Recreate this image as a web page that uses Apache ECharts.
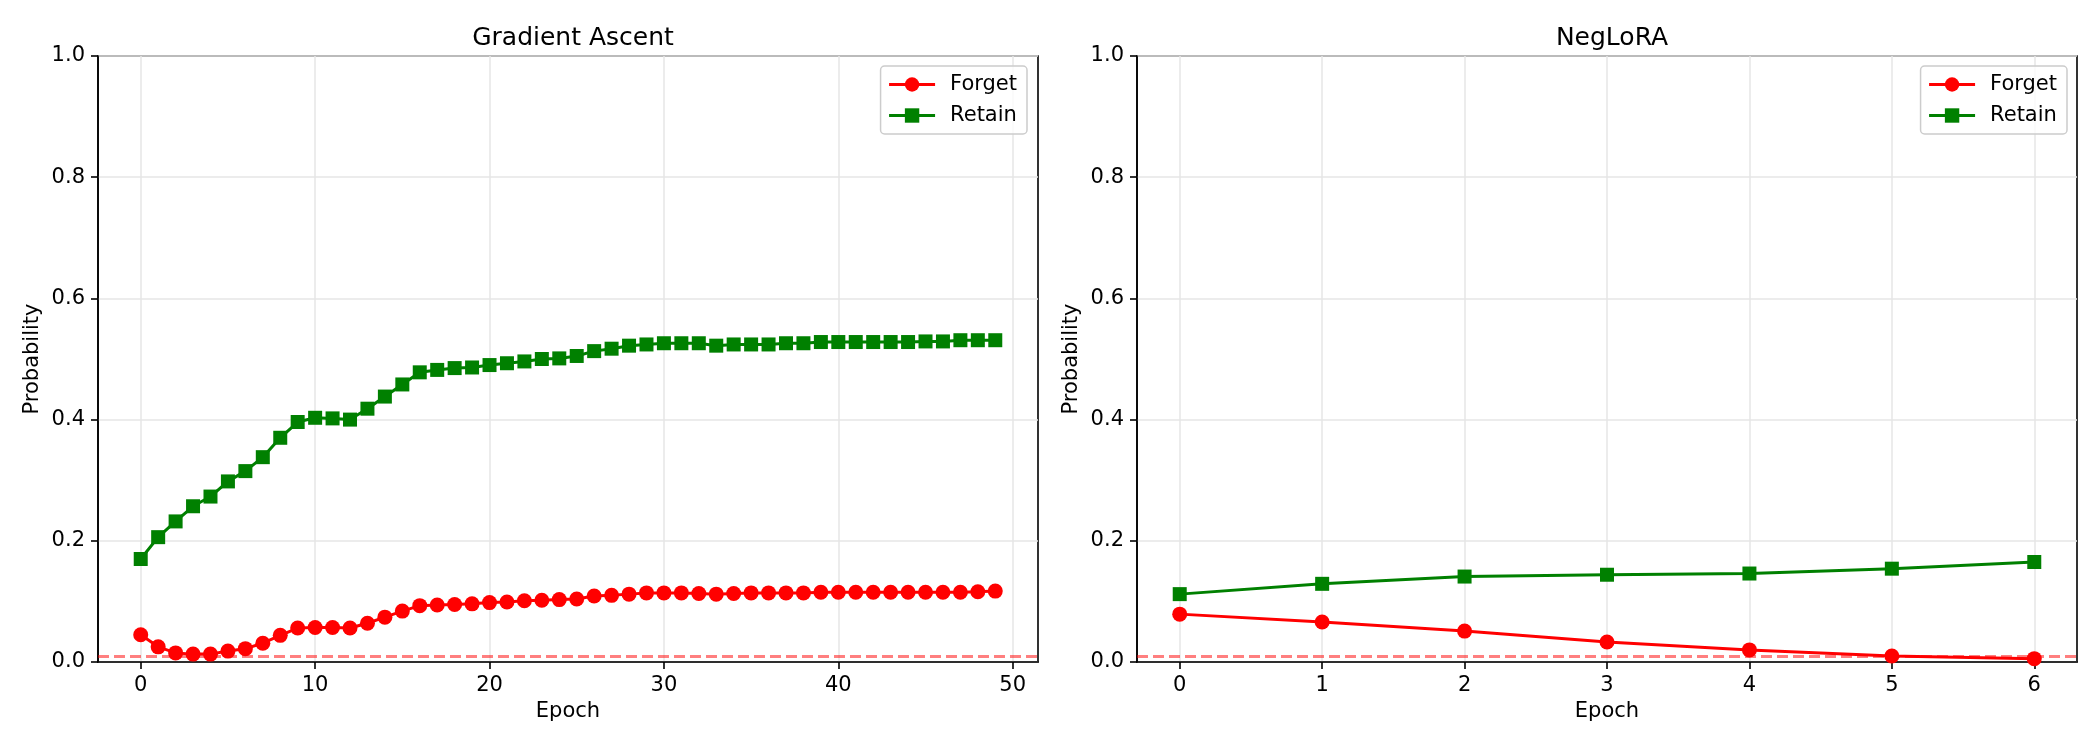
<!DOCTYPE html>
<html>
<head>
<meta charset="utf-8">
<title>Gradient Ascent vs NegLoRA</title>
<script src="https://cdn.jsdelivr.net/npm/echarts@6/dist/echarts.min.js"></script>
<style>
  html, body { margin: 0; padding: 0; background: #fff; }
  #chart { width: 2100px; height: 750px; }
</style>
</head>
<body>
<div id="chart"></div>
<script>
// --- data ---
const panelTitles = ['Gradient Ascent', 'NegLoRA'];
const seriesNames = ['Forget', 'Retain'];
const gaTicks = [0, 10, 20, 30, 40, 50];
const nlTicks = [0, 1, 2, 3, 4, 5, 6];
const threshold = 0.01;

// Gradient Ascent, epochs 0..49
const gaForget = [
  0.045, 0.025, 0.015, 0.013, 0.013, 0.018, 0.022, 0.031, 0.044, 0.056,
  0.057, 0.057, 0.056, 0.064, 0.074, 0.084, 0.093, 0.094, 0.095, 0.096,
  0.098, 0.099, 0.101, 0.102, 0.103, 0.104, 0.109, 0.110, 0.112, 0.114,
  0.114, 0.114, 0.113, 0.112, 0.113, 0.114, 0.114, 0.114, 0.114, 0.115,
  0.115, 0.115, 0.115, 0.115, 0.115, 0.115, 0.115, 0.115, 0.116, 0.117
];
const gaRetain = [
  0.170, 0.206, 0.232, 0.257, 0.273, 0.298, 0.315, 0.338, 0.370, 0.396,
  0.403, 0.402, 0.400, 0.418, 0.438, 0.458, 0.478, 0.482, 0.485, 0.486,
  0.490, 0.493, 0.496, 0.500, 0.501, 0.505, 0.513, 0.517, 0.522, 0.524,
  0.526, 0.526, 0.526, 0.522, 0.524, 0.524, 0.524, 0.526, 0.526, 0.528,
  0.528, 0.528, 0.528, 0.528, 0.528, 0.529, 0.529, 0.531, 0.531, 0.531
];

// NegLoRA, epochs 0..6
const nlForget = [0.079, 0.066, 0.051, 0.033, 0.020, 0.010, 0.0055];
const nlRetain = [0.112, 0.129, 0.141, 0.144, 0.146, 0.154, 0.165];

const FONT = 'DejaVu Sans';
const RED = '#ff0000';
const GREEN = '#008000';

// pair each value with its epoch index
const toPoints = (arr) => arr.map((v, i) => [i, v]);

const grids = [
  { left: 98, top: 56, width: 940, height: 606 },
  { left: 1137, top: 56, width: 940, height: 606 }
];

function makeXAxis(gridIndex, min, max, ticks) {
  return {
    type: 'value',
    gridIndex,
    min,
    max,
    name: 'Epoch',
    nameLocation: 'middle',
    nameGap: 38,
    nameTextStyle: { fontFamily: FONT, fontSize: 21, color: '#000' },
    axisLine: { show: true, onZero: false, lineStyle: { color: '#000', width: 1.6 } },
    axisTick: { show: true, length: 7, customValues: ticks, lineStyle: { color: '#000', width: 1.6 } },
    axisLabel: {
      customValues: ticks,
      margin: 13,
      fontFamily: FONT,
      fontSize: 21,
      color: '#000',
      formatter: (v) => String(v)
    },
    splitLine: { show: true, lineStyle: { color: '#e6e6e6', width: 1.5 } }
  };
}

function makeYAxis(gridIndex) {
  return {
    type: 'value',
    gridIndex,
    min: 0,
    max: 1,
    interval: 0.2,
    name: 'Probability',
    nameLocation: 'middle',
    nameRotate: 90,
    nameGap: 55,
    nameTextStyle: { fontFamily: FONT, fontSize: 21, color: '#000' },
    axisLine: { show: true, onZero: false, lineStyle: { color: '#000', width: 1.6 } },
    axisTick: { show: true, length: 7, lineStyle: { color: '#000', width: 1.6 } },
    axisLabel: {
      margin: 13,
      fontFamily: FONT,
      fontSize: 21,
      color: '#000',
      formatter: (v) => v.toFixed(1)
    },
    splitLine: { show: true, lineStyle: { color: '#e6e6e6', width: 1.5 } }
  };
}

function makeLegend(right) {
  return {
    orient: 'vertical',
    right,
    top: 66,
    data: seriesNames,
    itemWidth: 46,
    itemHeight: 18,
    itemGap: 10,
    padding: [8, 10, 8, 7],
    borderColor: '#cccccc',
    borderWidth: 1.5,
    borderRadius: 4,
    backgroundColor: 'rgba(255,255,255,0.8)',
    lineStyle: { width: 3 },
    textStyle: { fontFamily: FONT, fontSize: 21, color: '#000', padding: [0, 0, 0, 10] }
  };
}

function lineSeries(name, idx, data, color, symbol) {
  return {
    type: 'line',
    name,
    xAxisIndex: idx,
    yAxisIndex: idx,
    data: toPoints(data),
    symbol,
    symbolSize: symbol === 'circle' ? 15 : 14,
    showSymbol: true,
    color,
    itemStyle: { color },
    lineStyle: { color, width: 3 },
    z: 3
  };
}

function thresholdSeries(idx) {
  return {
    type: 'line',
    name: 'threshold',
    xAxisIndex: idx,
    yAxisIndex: idx,
    data: [],
    silent: true,
    z: 2,
    markLine: {
      silent: true,
      symbol: ['none', 'none'],
      label: { show: false },
      lineStyle: { color: 'rgba(255,0,0,0.5)', type: [11, 5], width: 3 },
      data: [{ yAxis: threshold }]
    }
  };
}

const chart = echarts.init(document.getElementById('chart'), null, { renderer: 'canvas' });

const option = {
  animation: false,
  backgroundColor: '#fff',
  title: panelTitles.map((t, i) => ({
    text: t,
    left: grids[i].left + grids[i].width / 2,
    top: 21,
    textAlign: 'center',
    textStyle: { fontFamily: FONT, fontSize: 25, fontWeight: 'normal', color: '#000' }
  })),
  grid: grids.map(g => ({ ...g, show: true, borderColor: '#000', borderWidth: 1.6, backgroundColor: 'transparent' })),
  legend: [makeLegend(1073), makeLegend(33)],
  xAxis: [makeXAxis(0, -2.45, 51.45, gaTicks), makeXAxis(1, -0.3, 6.3, nlTicks)],
  yAxis: [makeYAxis(0), makeYAxis(1)],
  series: [
    thresholdSeries(0),
    lineSeries('Forget', 0, gaForget, RED, 'circle'),
    lineSeries('Retain', 0, gaRetain, GREEN, 'rect'),
    thresholdSeries(1),
    lineSeries('Forget', 1, nlForget, RED, 'circle'),
    lineSeries('Retain', 1, nlRetain, GREEN, 'rect')
  ]
};

chart.setOption(option);
</script>
</body>
</html>
